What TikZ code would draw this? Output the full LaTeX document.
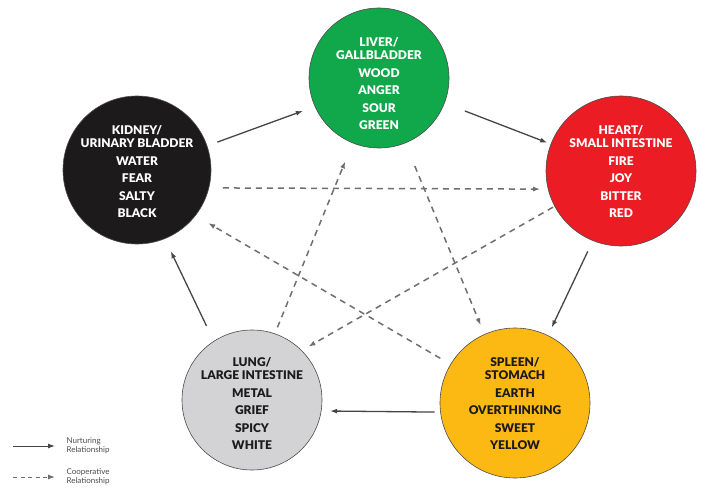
\documentclass[tikz,border=0pt]{standalone}
\usepackage{fontspec}
\setmainfont{Lato}
\newfontfamily\heavyfont{Lato Black}
\usepackage{tikz}
\usetikzlibrary{arrows.meta}
\usetikzlibrary{positioning}
\definecolor{woodgreen}{HTML}{10A84A}
\definecolor{firered}{HTML}{EC1C24}
\definecolor{earthyellow}{HTML}{FDB913}
\definecolor{metalgrey}{HTML}{D3D3D5}
\definecolor{waterblack}{HTML}{1C1A1A}
\definecolor{linegrey}{HTML}{454545}
\definecolor{dashgrey}{HTML}{6E6E6E}
\tikzset{%
    organ/.style={
		draw=black!70, line width=0.6pt, shape=circle,
		inner sep=0pt, outer sep=0pt
	}
}
\tikzset{organtext/.style={align=center, font=\fontsize{12}{13}\selectfont\heavyfont}}
\tikzset{nurture/.style={draw=linegrey, line width=1.3pt, -{Latex[length=7pt,width=5pt]}}}
\tikzset{cooperate/.style={draw=dashgrey, line width=1.5pt, dash pattern=on 6pt off 5pt, -{Latex[length=7pt,width=5pt]}}}
\tikzset{legendtext/.style={align=left, text=black!70, font=\fontsize{8}{9.5}\selectfont}}
\newcommand{\gapline}{\\[4.5pt]}

\begin{document}
\begin{tikzpicture}[x=1pt, y=1pt]
		\useasboundingbox (0,0) rectangle (707,491);

		% the five circles
		\node[organ, fill=woodgreen, minimum size=140pt] (liver) at (379,413) {};
		\node[organ, fill=waterblack, minimum size=148pt] (kidney) at (137,321) {};
		\node[organ, fill=firered, minimum size=150pt] (heart) at (621,320) {};
		\node[organ, fill=metalgrey, minimum size=140pt] (lung) at (252,91) {};
		\node[organ, fill=earthyellow, minimum size=150pt] (spleen) at (515,88) {};

		\node[organtext, text=white] (livertxt) at (379,407) {LIVER/\\GALLBLADDER\gapline WOOD\gapline ANGER\gapline SOUR\gapline GREEN};
		\node[organtext, text=white] (kidneytxt) at (137,319) {KIDNEY/\\URINARY BLADDER\gapline WATER\gapline FEAR\gapline SALTY\gapline BLACK};
		\node[organtext, text=white] (hearttxt) at (621,319) {HEART/\\SMALL INTESTINE\gapline FIRE\gapline JOY\gapline BITTER\gapline RED};
		\node[organtext, text=waterblack] (lungtxt) at (252,87) {LUNG/\\LARGE INTESTINE\gapline METAL\gapline GRIEF\gapline SPICY\gapline WHITE};
		\node[organtext, text=waterblack] (spleentxt) at (515,87) {SPLEEN/\\STOMACH\gapline EARTH\gapline OVERTHINKING\gapline SWEET\gapline YELLOW};

		% nurturing cycle
		\draw[nurture, shorten <=11pt, shorten >=13pt] (kidney.19) -- (liver.204);
		\draw[nurture, shorten <=22pt, shorten >=4pt] (liver.-21) -- (heart.159);
		\draw[nurture, shorten <=12pt, shorten >=9pt] (heart.248) -- (spleen.64);
		\draw[nurture, shorten <=6pt, shorten >=9pt] (spleen.187) -- (lung.-9);
		\draw[nurture, shorten <=17pt, shorten >=14pt] (lung.123) -- (kidney.-68);

		% cooperative star
		\draw[cooperate, shorten <=14pt, shorten >=8pt] (kidney.-14) -- (heart.194);
		\draw[cooperate, shorten <=25pt, shorten >=10pt] (liver.-68) -- (spleen.114);
		\draw[cooperate, shorten <=2pt, shorten >=8pt] (heart.208) -- (lung.45);
		\draw[cooperate, shorten <=12pt, shorten >=15pt] (spleen.149) -- (kidney.-38);
		\draw[cooperate, shorten <=7pt, shorten >=20pt] (lung.71) -- (liver.248);

		% legend
		\coordinate (nurstart) at (13,45);	\coordinate (nurend) at (55,45);
		\coordinate (coostart) at (13,14);	\coordinate (cooend) at (55,14);
		\draw[nurture, line width=1pt] (nurstart) -- (nurend);
		\draw[cooperate, line width=1pt, dash pattern=on 4pt off 3.5pt] (coostart) -- (cooend);
		\node[legendtext, anchor=west, right=8pt of nurend] (nurlabel) {Nurturing\\Relationship};
		\node[legendtext, anchor=west, right=8pt of cooend] (coolabel) {Cooperative\\Relationship};
	\end{tikzpicture}
\end{document}
